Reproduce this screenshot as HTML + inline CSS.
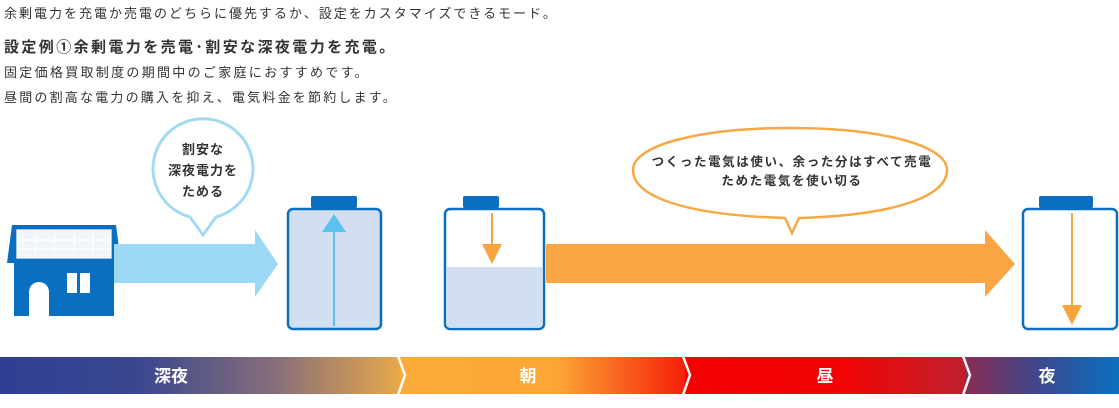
<!DOCTYPE html>
<html><head><meta charset="utf-8"><style>
body{margin:0;width:1119px;height:408px;background:#fff;position:relative;overflow:hidden;font-family:"Liberation Sans","Noto Sans CJK JP",sans-serif;color:#333}
.t{position:absolute;left:4px;white-space:nowrap}
</style></head><body>
<div class="t" style="top:3px;font-size:13px;letter-spacing:2px">余剰電力を充電か売電のどちらに優先するか、設定をカスタマイズできるモード。</div>
<div class="t" style="top:36px;font-size:15px;letter-spacing:2.4px;font-weight:bold">設定例①余剰電力を売電･割安な深夜電力を充電。</div>
<div class="t" style="top:62px;font-size:13px;letter-spacing:2.3px">固定価格買取制度の期間中のご家庭におすすめです。</div>
<div class="t" style="top:87px;font-size:13px;letter-spacing:2.2px">昼間の割高な電力の購入を抑え、電気料金を節約します。</div>
<svg width="1119" height="408" style="position:absolute;left:0;top:0">
<defs>
<linearGradient id="g1" x1="0" x2="1"><stop offset="0" stop-color="#2e3f93"/><stop offset="0.35" stop-color="#3a4790"/><stop offset="0.7" stop-color="#8a7078"/><stop offset="1" stop-color="#e8a84a"/></linearGradient>
<linearGradient id="g2" x1="0" x2="1"><stop offset="0" stop-color="#fbab3a"/><stop offset="0.55" stop-color="#fca634"/><stop offset="1" stop-color="#f5200a"/></linearGradient>
<linearGradient id="g3" x1="0" x2="1"><stop offset="0" stop-color="#f40202"/><stop offset="0.55" stop-color="#f20404"/><stop offset="1" stop-color="#c0202e"/></linearGradient>
<linearGradient id="g4" x1="0" x2="1"><stop offset="0" stop-color="#8a2d55"/><stop offset="0.5" stop-color="#3a4a90"/><stop offset="1" stop-color="#0a70c0"/></linearGradient>
</defs>
<polygon points="12,225 116,225 121,263 7,263" fill="#0a6fc0"/>
<g stroke="#fff" stroke-width="1.2" fill="#e8f2fb">
<rect x="17" y="230" width="94" height="28" fill="#f0f6fc"/>
<line x1="36" y1="230" x2="35" y2="258"/><line x1="55" y1="230" x2="54" y2="258"/><line x1="74" y1="230" x2="74" y2="258"/><line x1="93" y1="230" x2="93" y2="258"/>
<line x1="17" y1="240" x2="111" y2="240"/><line x1="17" y1="249" x2="111" y2="249"/>
</g>
<rect x="14" y="263" width="100" height="53" fill="#0a6fc0"/>
<path d="M29,316 V292 a10,10 0 0 1 20,0 V316 Z" fill="#fff"/>
<rect x="67" y="273" width="10" height="20" fill="#fff"/><rect x="80" y="273" width="10" height="20" fill="#fff"/>
<polygon points="114,244 255,244 255,230 278,264 255,297 255,283 114,283" fill="#9bd8f3"/>
<path d="M190,217 A50,50 0 1 1 216,217 L203,235 Z" fill="#fff" stroke="#a2daf3" stroke-width="3"/>
<g font-size="13" letter-spacing="1" font-weight="bold" fill="#333" text-anchor="middle">
<text x="203" y="154">割安な</text><text x="203" y="175">深夜電力を</text><text x="203" y="196">ためる</text></g>
<rect x="311" y="196" width="46" height="12" rx="2" fill="#0a6fc0"/>
<rect x="288" y="209" width="93" height="120" rx="5" fill="#d2dff0" stroke="#0a6fc0" stroke-width="2.5"/>
<line x1="334" y1="326" x2="334" y2="230" stroke="#5ac2ef" stroke-width="2"/>
<polygon points="322,232 346,232 334,214" fill="#5ac2ef"/>
<rect x="463" y="196" width="36" height="12" rx="2" fill="#0a6fc0"/>
<rect x="445" y="209" width="99" height="120" rx="5" fill="#fff" stroke="#0a6fc0" stroke-width="2.5"/>
<rect x="447" y="267" width="95" height="60" fill="#d2dff0"/>
<line x1="492" y1="213" x2="492" y2="250" stroke="#f8a43e" stroke-width="2"/>
<polygon points="482,244 502,244 492,264" fill="#f8a43e"/>
<polygon points="546,244 985,244 985,230 1015,264 985,297 985,283 546,283" fill="#faa644"/>
<path d="M785,218 C680,215 633,195 633,170 C633,145 700,128 790,128 C880,128 947,145 947,170 C947,195 900,215 799,218 L792,233 Z" fill="#fff" stroke="#f7a845" stroke-width="2.5"/>
<g font-size="12.5" letter-spacing="1.6" font-weight="bold" fill="#333" text-anchor="middle">
<text x="792" y="166">つくった電気は使い、余った分はすべて売電</text><text x="792" y="185">ためた電気を使い切る</text></g>
<rect x="1039" y="196" width="54" height="12" rx="2" fill="#0a6fc0"/>
<rect x="1023" y="209" width="94" height="120" rx="5" fill="#fff" stroke="#0a6fc0" stroke-width="2.5"/>
<line x1="1072" y1="213" x2="1072" y2="310" stroke="#f8a43e" stroke-width="2"/>
<polygon points="1062,305 1082,305 1072,325" fill="#f8a43e"/>
<rect x="0" y="357" width="400" height="37" fill="url(#g1)"/>
<rect x="400" y="357" width="285" height="37" fill="url(#g2)"/>
<rect x="685" y="357" width="280" height="37" fill="url(#g3)"/>
<rect x="965" y="357" width="154" height="37" fill="url(#g4)"/>
<g fill="none" stroke="#fff" stroke-width="2.5">
<polyline points="398,356 405,375 398,395"/><polyline points="683,356 690,375 683,395"/><polyline points="963,356 970,375 963,395"/></g>
<g font-size="17" font-weight="bold" fill="#fff" text-anchor="middle">
<text x="171" y="382">深夜</text><text x="528" y="382">朝</text><text x="825" y="382">昼</text><text x="1047" y="382">夜</text></g>
</svg>
</body></html>
